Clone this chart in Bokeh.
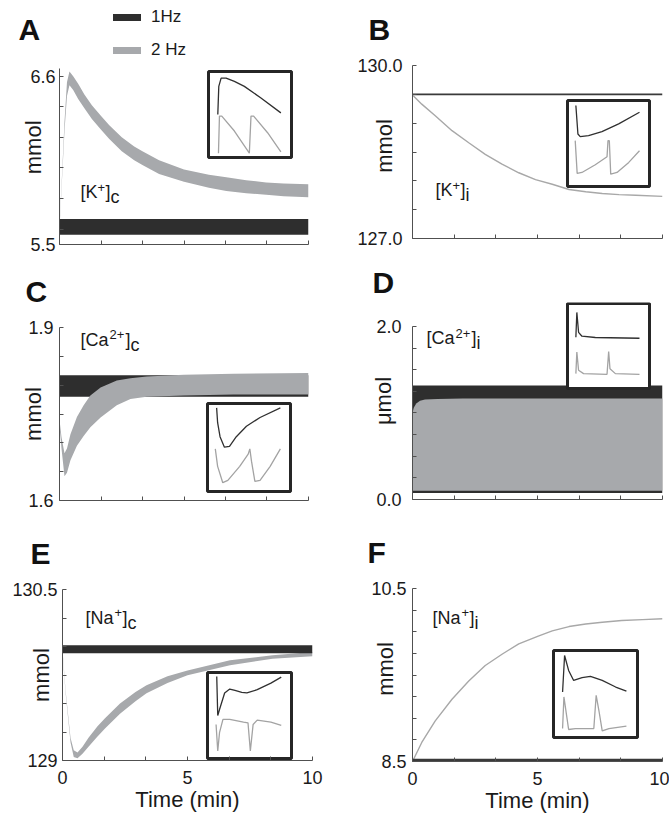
import math
from bokeh.plotting import figure
from bokeh.models import (FixedTicker, Range1d, Label, Legend, LegendItem,
                          NumeralTickFormatter)
from bokeh.layouts import column, row
from bokeh.embed import file_html
from bokeh.resources import INLINE

FONT = "Liberation Sans"
BLACK = "#2e2e2e"
GRAY = "#a7a9ac"
AXIS_C = "#505050"
TEXT_C = "#1a1a1a"
INSET_BLACK = "#303030"
INSET_GRAY = "#a3a3a3"
NBSP = "\u00a0"
BASE_SHIFT = 0.45   # label anchor correction (fraction of font size)

# ---------------- data ----------------
x_major = [0, 5, 10]
x_minor = [1.667, 3.333, 6.667, 8.333]

# Panel A  [K+]c  (mmol)
a_t = [0, 0.1, 0.2, 0.3, 0.4, 0.55, 0.75, 1.0, 1.3, 1.67, 2.0, 2.5, 3.0, 3.33,
       4.0, 5.0, 6.0, 6.7, 7.5, 8.3, 9.0, 10.0]
a_2hz_hi = [5.62, 5.95, 6.30, 6.56, 6.63, 6.60, 6.55, 6.48, 6.41, 6.34, 6.28, 6.20,
            6.14, 6.11, 6.05, 5.99, 5.955, 5.94, 5.92, 5.905, 5.898, 5.893]
a_2hz_lo = [5.60, 5.92, 6.24, 6.47, 6.54, 6.51, 6.45, 6.39, 6.32, 6.25, 6.19, 6.11,
            6.05, 6.02, 5.96, 5.91, 5.87, 5.85, 5.835, 5.825, 5.815, 5.809]
a_1hz_t = [0, 10]
a_1hz_hi = [5.667, 5.667]
a_1hz_lo = [5.563, 5.563]
a_yticks = [5.5, 6.6]
a_yminor = [5.6, 5.8, 6.0, 6.2, 6.4]

# Panel B  [K+]i  (mmol)
b_t = [0, 0.37, 0.91, 1.58, 2.25, 2.91, 3.58, 4.25, 4.92, 5.59, 6.26, 6.93, 7.59,
       8.26, 8.93, 10.0]
b_2hz = [129.49, 129.33, 129.13, 128.87, 128.66, 128.46, 128.29, 128.14, 128.02,
         127.94, 127.85, 127.81, 127.78, 127.76, 127.75, 127.73]
b_1hz_t = [0, 10]
b_1hz = [129.5, 129.5]
b_yticks = [127, 130]
b_yminor = [127.5, 128, 128.5, 129, 129.5]

# Panel C  [Ca2+]c  (mmol)
c_t = [0, 0.08, 0.2, 0.3, 0.44, 0.7, 0.97, 1.24, 1.65, 2.3, 2.85, 3.5, 5.0, 7.0, 10.0]
c_2hz_hi = [1.740, 1.710, 1.682, 1.690, 1.715, 1.745, 1.765, 1.782, 1.796, 1.808,
            1.812, 1.815, 1.818, 1.820, 1.821]
c_2hz_lo = [1.730, 1.690, 1.642, 1.648, 1.670, 1.695, 1.712, 1.727, 1.744, 1.765,
            1.776, 1.780, 1.782, 1.784, 1.784]
c_1hz_t = [0, 10]
c_1hz_hi = [1.817, 1.817]
c_1hz_lo = [1.780, 1.780]
c_yticks = [1.6, 1.9]
c_yminor = [1.65, 1.7, 1.75, 1.8, 1.85]

# Panel D  [Ca2+]i  (umol)
d_t = [0, 0.05, 0.15, 0.3, 0.5, 1.0, 2.0, 10.0]
d_2hz_hi = [1.00, 1.06, 1.11, 1.14, 1.156, 1.162, 1.166, 1.168]
d_2hz_lo = [0.10, 0.10, 0.10, 0.10, 0.10, 0.10, 0.10, 0.10]
d_1hz_t = [0, 10]
d_1hz_hi = [1.318, 1.318]
d_1hz_lo = [0.075, 0.075]
d_yticks = [0, 2]
d_yminor = [0.25, 0.5, 0.75, 1.0, 1.25, 1.5, 1.75]

# Panel E  [Na+]c  (mmol)
e_t = [0, 0.12, 0.32, 0.45, 0.6, 0.8, 1.04, 1.4, 1.7, 2.3, 2.92, 3.36, 4.2, 5.0,
       6.7, 8.4, 10.0]
e_2hz_hi = [129.97, 129.62, 129.20, 129.09, 129.07, 129.12, 129.20, 129.30, 129.37,
            129.50, 129.60, 129.66, 129.74, 129.79, 129.879, 129.923, 129.952]
e_2hz_lo = [129.95, 129.60, 129.16, 129.03, 129.02, 129.06, 129.12, 129.21, 129.28,
            129.41, 129.52, 129.59, 129.68, 129.747, 129.835, 129.893, 129.914]
e_1hz_t = [0, 10]
e_1hz_hi = [130.01, 130.01]
e_1hz_lo = [129.94, 129.94]
e_yticks = [129, 130.5]
e_yminor = [129.25, 129.5, 129.75, 130.0, 130.25]

# Panel F  [Na+]i  (mmol)
f_t = [0, 0.37, 0.91, 1.58, 2.25, 2.91, 3.58, 4.25, 5.03, 5.59, 6.26, 6.93, 7.59,
       8.37, 9.2, 10.0]
f_2hz = [8.50, 8.72, 8.97, 9.22, 9.43, 9.61, 9.74, 9.86, 9.95, 10.01, 10.06, 10.09,
         10.11, 10.13, 10.14, 10.15]
f_1hz_t = [0, 10]
f_1hz = [8.515, 8.515]
f_yticks = [8.5, 10.5]
f_yminor = [8.75, 9.0, 9.25, 9.5, 9.75, 10.0, 10.25]

# Inset traces (normalised to the inset box, 0..1)
ia_bu = [0.112, 0.124, 0.152, 0.212, 0.312, 0.432, 0.632, 0.872]
ia_bv = [0.50, 0.827, 0.923, 0.923, 0.885, 0.827, 0.692, 0.519]
ia_gu = [0.12, 0.132, 0.16, 0.312, 0.492, 0.512, 0.544, 0.712, 0.872]
ia_gv = [0.05, 0.481, 0.481, 0.308, 0.05, 0.481, 0.481, 0.288, 0.065]

ib_bu = [0.102, 0.127, 0.155, 0.257, 0.42, 0.624, 0.878]
ib_bv = [0.942, 0.611, 0.58, 0.591, 0.638, 0.728, 0.864]
ib_gu = [0.094, 0.118, 0.176, 0.339, 0.482, 0.494, 0.51, 0.527, 0.604, 0.747, 0.878]
ib_gv = [0.533, 0.152, 0.163, 0.253, 0.346, 0.533, 0.533, 0.144, 0.163, 0.28, 0.416]

ic_bu = [0.11, 0.122, 0.151, 0.204, 0.265, 0.347, 0.469, 0.633, 0.878]
ic_bv = [0.95, 0.782, 0.623, 0.504, 0.512, 0.623, 0.742, 0.841, 0.95]
ic_gu = [0.094, 0.122, 0.184, 0.245, 0.388, 0.49, 0.51, 0.53, 0.571, 0.633, 0.755, 0.878]
ic_gv = [0.484, 0.286, 0.10, 0.127, 0.286, 0.425, 0.484, 0.345, 0.115, 0.127, 0.286, 0.484]

id_bu = [0.102, 0.114, 0.135, 0.176, 0.339, 0.878]
id_bv = [0.603, 0.895, 0.661, 0.615, 0.60, 0.591]
id_gu = [0.102, 0.114, 0.135, 0.196, 0.482, 0.502, 0.518, 0.584, 0.878]
id_gv = [0.175, 0.428, 0.214, 0.175, 0.167, 0.436, 0.233, 0.175, 0.167]

ie_bu = [0.11, 0.122, 0.143, 0.204, 0.265, 0.327, 0.408, 0.469, 0.592, 0.755, 0.878]
ie_bv = [0.954, 0.50, 0.569, 0.762, 0.808, 0.792, 0.769, 0.762, 0.80, 0.877, 0.946]
ie_gu = [0.102, 0.122, 0.143, 0.184, 0.265, 0.429, 0.482, 0.51, 0.543, 0.592, 0.755, 0.878]
ie_gv = [0.396, 0.088, 0.30, 0.454, 0.454, 0.423, 0.415, 0.088, 0.396, 0.446, 0.423, 0.385]

if_bu = [0.108, 0.132, 0.18, 0.24, 0.34, 0.44, 0.58, 0.74, 0.868]
if_bv = [0.523, 0.943, 0.771, 0.656, 0.687, 0.702, 0.656, 0.58, 0.534]
if_gu = [0.108, 0.124, 0.18, 0.26, 0.48, 0.508, 0.54, 0.58, 0.66, 0.868]
if_gv = [0.103, 0.466, 0.092, 0.103, 0.103, 0.485, 0.313, 0.076, 0.103, 0.13]

legend_labels = ["1Hz", "2 Hz"]
panel_letters = ["A", "B", "C", "D", "E", "F"]


# ---------------- helpers ----------------
def make_panel(cell, frame, yr):
    cx, cy, cw, ch = cell
    fx0, fx1, fy0, fy1 = frame
    p = figure(width=cw, height=ch, x_range=Range1d(0, 10), y_range=Range1d(*yr),
               output_backend="svg", toolbar_location=None,
               min_border_left=fx0 - cx, min_border_right=cx + cw - fx1,
               min_border_top=fy0 - cy, min_border_bottom=cy + ch - fy1)
    p.outline_line_color = None
    p.xgrid.visible = False
    p.ygrid.visible = False
    p.background_fill_color = "white"
    p.border_fill_color = "white"
    return p


def make_strip(x0, width, top, height):
    s = figure(width=width, height=height, x_range=Range1d(x0, x0 + width),
               y_range=Range1d(top + height, top), output_backend="svg",
               toolbar_location=None, x_axis_type=None, y_axis_type=None,
               min_border_left=0, min_border_right=0, min_border_top=0,
               min_border_bottom=0)
    s.outline_line_color = None
    s.grid.visible = False
    s.border_fill_color = "white"
    return s


def strip_letter(s, letter, px, py):
    s.add_layout(Label(x=px, y=py, y_offset=round(BASE_SHIFT * 30), text=letter,
                       text_font=FONT, text_font_size="30px",
                       text_font_style="bold", text_color="#111111",
                       text_baseline="alphabetic"))


def style_axis(ax, major, minor, standoff, size="18px"):
    ax.ticker = FixedTicker(ticks=major, minor_ticks=minor)
    ax.major_tick_in = 4
    ax.major_tick_out = 0
    ax.minor_tick_in = 4
    ax.minor_tick_out = 0
    ax.axis_line_color = AXIS_C
    ax.major_tick_line_color = AXIS_C
    ax.minor_tick_line_color = AXIS_C
    ax.major_label_text_font = FONT
    ax.major_label_text_font_size = size
    ax.major_label_text_color = TEXT_C
    ax.major_label_standoff = standoff
    ax.axis_label_text_font = FONT
    ax.axis_label_text_font_size = "22px"
    ax.axis_label_text_font_style = "normal"
    ax.axis_label_text_color = TEXT_C


def add_ion(p, x, y, parts):
    for txt, dx, dy, size in parts:
        px = int(size.replace("px", ""))
        p.add_layout(Label(x=x, y=y, x_offset=dx, y_offset=dy + round(BASE_SHIFT * px),
                           text=txt, text_font=FONT, text_font_size=size,
                           text_color=TEXT_C, text_baseline="alphabetic"))


def add_inset(p, frame, box, bu, bv, gu, gv):
    fx0, fx1, fy0, fy1 = frame
    bx0, bx1, by0, by1 = box
    bw, bh = bx1 - bx0, by1 - by0
    p.extra_x_ranges["ins"] = Range1d((fx0 - bx0) / bw, (fx1 - bx0) / bw)
    p.extra_y_ranges["ins"] = Range1d((by1 - fy1) / bh, (by1 - fy0) / bh)
    p.quad(left=[0], right=[1], bottom=[0], top=[1], x_range_name="ins",
           y_range_name="ins", fill_color="white", line_color="#262626", line_width=3)
    p.line(bu, bv, x_range_name="ins", y_range_name="ins", line_color=INSET_BLACK,
           line_width=1.3)
    p.line(gu, gv, x_range_name="ins", y_range_name="ins", line_color=INSET_GRAY,
           line_width=1.3)


def x_axis(p, labelled):
    if labelled:
        style_axis(p.xaxis[0], x_major, x_minor, 10)
        p.xaxis.axis_label = "Time (min)"
        p.xaxis.axis_label_standoff = 0
    else:
        style_axis(p.xaxis[0], [], x_major + x_minor, 4)


def y_label(p, text, standoff):
    p.yaxis.axis_label = text
    p.yaxis.axis_label_standoff = standoff


SUP = "13px"
MAIN = "18px"
nan = float("nan")

# ======================= left column =======================
sL1 = make_strip(0, 335, 0, 56)
strip_letter(sL1, panel_letters[0], 18, 43)
r1 = sL1.line([nan], [nan], line_color=BLACK, line_width=7, line_cap="round")
r2 = sL1.line([nan], [nan], line_color=GRAY, line_width=7, line_cap="round")
leg = Legend(items=[LegendItem(label=legend_labels[0], renderers=[r1]),
                    LegendItem(label=legend_labels[1], renderers=[r2])],
             location=(113, -4), orientation="vertical", glyph_width=28,
             glyph_height=20, label_height=20, label_standoff=10, spacing=13,
             padding=0, margin=0, border_line_color=None, background_fill_alpha=0,
             label_text_font=FONT, label_text_font_size="17px",
             label_text_color=TEXT_C)
sL1.add_layout(leg)

fA = (59, 308, 68, 244)
yA = (5.5, 6.65)
pA = make_panel((0, 56, 335, 214), fA, yA)
pA.varea(x=a_1hz_t, y1=a_1hz_lo, y2=a_1hz_hi, fill_color=BLACK)
pA.varea(x=a_t, y1=a_2hz_lo, y2=a_2hz_hi, fill_color=GRAY)
style_axis(pA.yaxis[0], a_yticks, a_yminor, 4)
y_label(pA, NBSP * 3 + "mmol", -19)
x_axis(pA, False)
add_inset(pA, fA, (208, 291, 71, 157), ia_bu, ia_bv, ia_gu, ia_gv)
add_ion(pA, 0.84, 5.79, [("[K", 0, 0, MAIN), ("+", 17, 7, SUP), ("]", 25, 0, MAIN),
                         ("c", 30, -5, MAIN)])

sL2 = make_strip(0, 335, 270, 43)
strip_letter(sL2, panel_letters[2], 25, 305)

fC = (59, 308, 327, 500)
yC = (1.6, 1.9)
pC = make_panel((0, 313, 335, 227), fC, yC)
pC.varea(x=c_1hz_t, y1=c_1hz_lo, y2=c_1hz_hi, fill_color=BLACK)
pC.varea(x=c_t, y1=c_2hz_lo, y2=c_2hz_hi, fill_color=GRAY)
style_axis(pC.yaxis[0], c_yticks, c_yminor, 6)
y_label(pC, "mmol", -21)
x_axis(pC, False)
add_inset(pC, fC, (207, 290, 403, 491), ic_bu, ic_bv, ic_gu, ic_gv)
add_ion(pC, 0.84, 1.865, [("[Ca", 0, 0, MAIN), ("2+", 29, 7, SUP), ("]", 45, 0, MAIN),
                          ("c", 50, -5, MAIN)])

sL3 = make_strip(0, 335, 540, 38)
strip_letter(sL3, panel_letters[4], 30, 567)

fE = (62, 312, 589, 760)
yE = (129, 130.5)
pE = make_panel((0, 578, 335, 240), fE, yE)
pE.varea(x=e_t, y1=e_2hz_lo, y2=e_2hz_hi, fill_color=GRAY)
pE.varea(x=e_1hz_t, y1=e_1hz_lo, y2=e_1hz_hi, fill_color=BLACK)
style_axis(pE.yaxis[0], e_yticks, e_yminor, 5)
y_label(pE, "mmol", -45)
x_axis(pE, True)
add_inset(pE, fE, (207, 291, 672, 758), ie_bu, ie_bv, ie_gu, ie_gv)
add_ion(pE, 0.92, 130.18, [("[Na", 0, 0, MAIN), ("+", 29, 7, SUP), ("]", 37, 0, MAIN),
                           ("c", 42, -5, MAIN)])

# ======================= right column =======================
sR1 = make_strip(335, 334, 0, 56)
strip_letter(sR1, panel_letters[1], 368, 43)

fB = (412, 662, 65, 238)
yB = (127, 130)
pB = make_panel((335, 56, 334, 214), fB, yB)
pB.line(b_1hz_t, b_1hz, line_color="#3a3a3a", line_width=1.8)
pB.line(b_t, b_2hz, line_color="#a8a8a8", line_width=1.4)
style_axis(pB.yaxis[0], b_yticks, b_yminor, 10)
pB.yaxis[0].formatter = NumeralTickFormatter(format="0.0")
y_label(pB, NBSP * 2 + "mmol", -43)
x_axis(pB, False)
add_inset(pB, fB, (567, 649, 100, 186), ib_bu, ib_bv, ib_gu, ib_gv)
add_ion(pB, 0.92, 127.70, [("[K", 0, 0, MAIN), ("+", 17, 7, SUP), ("]", 25, 0, MAIN),
                           ("i", 30, -5, MAIN)])

sR2 = make_strip(335, 334, 270, 32)
strip_letter(sR2, panel_letters[3], 372, 296)

fD = (412, 662, 302, 499)
yD = (0, 2.277)
pD = make_panel((335, 302, 334, 238), fD, yD)
pD.varea(x=d_1hz_t, y1=d_1hz_lo, y2=d_1hz_hi, fill_color=BLACK)
pD.varea(x=d_t, y1=d_2hz_lo, y2=d_2hz_hi, fill_color=GRAY)
style_axis(pD.yaxis[0], d_yticks, d_yminor, 11)
pD.yaxis[0].formatter = NumeralTickFormatter(format="0.0")
pD.yaxis[0].bounds = (0, 2)
y_label(pD, "\u03bcmol", -23)
x_axis(pD, False)
add_inset(pD, fD, (567, 649, 303, 388), id_bu, id_bv, id_gu, id_gv)
add_ion(pD, 0.56, 1.77, [("[Ca", 0, 0, MAIN), ("2+", 29, 7, SUP), ("]", 45, 0, MAIN),
                         ("i", 50, -5, MAIN)])

sR3 = make_strip(335, 334, 540, 38)
strip_letter(sR3, panel_letters[5], 367, 566)

fF = (412, 662, 588, 761)
yF = (8.5, 10.5)
pF = make_panel((335, 578, 334, 240), fF, yF)
pF.line(f_t, f_2hz, line_color="#a8a8a8", line_width=1.4)
pF.line(f_1hz_t, f_1hz, line_color="#3a3a3a", line_width=3)
style_axis(pF.yaxis[0], f_yticks, f_yminor, 6)
y_label(pF, NBSP * 2 + "mmol", -30)
x_axis(pF, True)
add_inset(pF, fF, (553, 637, 650, 737), if_bu, if_bv, if_gu, if_gv)
add_ion(pF, 0.8, 10.07, [("[Na", 0, 0, MAIN), ("+", 29, 7, SUP), ("]", 37, 0, MAIN),
                         ("i", 42, -5, MAIN)])

# each plot wrapped in its own row so that no plot frames get aligned
left = column(sL1, row(pA), sL2, row(pC), sL3, row(pE))
right = column(sR1, row(pB), sR2, row(pD), sR3, row(pF))
page = row(left, right)
open("out.html", "w").write(file_html(page, INLINE))
